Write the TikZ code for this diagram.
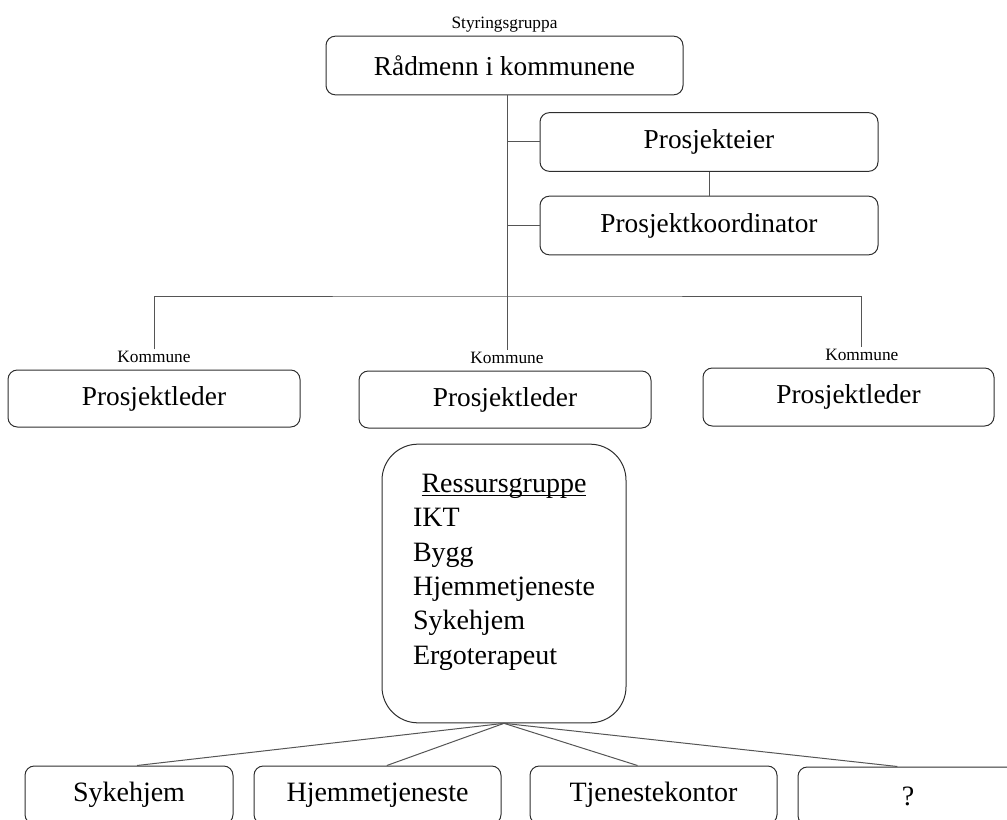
\documentclass[tikz,border=0pt]{standalone}
\usepackage{fontspec}
\setmainfont{Liberation Serif}
\usepackage{xcolor}
\definecolor{ink}{HTML}{2E2E2E}
\definecolor{wire}{HTML}{555555}
\usepackage{tikz}
\usetikzlibrary{positioning}
\newcommand\ulined[1]{\sbox0{#1}\rlap{\rule[-2.4pt]{\wd0}{0.7pt}}\usebox0}

\begin{document}
\begin{tikzpicture}[
  x=0.75pt, y=-0.75pt,
  node distance=2pt and 0pt,
  box/.style={draw=ink, rounded corners=7pt, line width=0.75pt, inner sep=0pt,
              font=\fontsize{20.5}{24}\selectfont, minimum height=44pt},
  lowbox/.style={box, font=\fontsize{21}{25}\selectfont, minimum height=43.5pt},
  small/.style={font=\fontsize{13}{15}\selectfont, inner sep=1pt},
  resbox/.style={draw=ink, rounded corners=27pt, line width=0.75pt, inner sep=0pt,
                 minimum width=183pt, minimum height=209pt},
  wire/.style={draw=wire, line width=0.75pt}
]
\useasboundingbox (0,0) rectangle (1007,820);

\node[box, minimum width=267.75pt] (raad) at (504.5,65.5) {Rådmenn i kommunene};
\node[small, above=1pt of raad] (styr) {Styringsgruppa};
\node[box, minimum width=253.5pt] (eier) at (709,142) {Prosjekteier};
\node[box, minimum width=253.5pt] (koord) at (709,225.5) {Prosjektkoordinator};

\node[box, minimum width=219pt, minimum height=42.75pt] (lederL) at (154,398.5) {Prosjektleder};
\node[box, minimum width=219pt, minimum height=42.75pt] (lederM) at (505,399.5) {Prosjektleder};
\node[box, minimum width=218.25pt, minimum height=43.5pt] (lederR) at (848.5,397) {Prosjektleder};
\node[small, above=4pt of lederL] (komL) {Kommune};
\node[small, above=4pt of lederM, xshift=1.5pt] (komM) {Kommune};
\node[small, above=4pt of lederR, xshift=10pt] (komR) {Kommune};

\node[resbox] (res) at (504,583.5) {\fontsize{21}{25.8}\selectfont
  \begin{tabular}{@{}l@{}}
    \multicolumn{1}{@{}c@{}}{\ulined{Ressursgruppe}}\\
    IKT\\
    Bygg\\
    Hjemmetjeneste\\
    Sykehjem\\
    Ergoterapeut\\[18pt]
  \end{tabular}};

\node[lowbox, minimum width=156pt] (syk) at (129,795) {Sykehjem};
\node[lowbox, minimum width=185.25pt] (hjem) at (377.5,795) {Hjemmetjeneste};
\node[lowbox, minimum width=185.25pt] (tjen) at (653.5,795) {Tjenestekontor};
\node[lowbox, minimum width=165pt] (ukjent) at (908,796) {?};

\coordinate (bus) at (507,296);
\draw[wire] (raad.south -| komM.north) -- (komM.north);
\draw[wire] (eier.west -| komM.north) -- (eier.west);
\draw[wire] (koord.west -| komM.north) -- (koord.west);
\draw[wire] (eier.south) -- (koord.north);
\draw[wire] (komL.north) |- (bus) -| (komR.north);

\draw[wire] (res.south) -- ([xshift=6pt]syk.north);
\draw[wire] (res.south) -- ([xshift=7pt]hjem.north);
\draw[wire] (res.south) -- ([xshift=-12pt]tjen.north);
\draw[wire] (res.south) -- ([xshift=-8pt]ukjent.north);
\end{tikzpicture}
\end{document}
